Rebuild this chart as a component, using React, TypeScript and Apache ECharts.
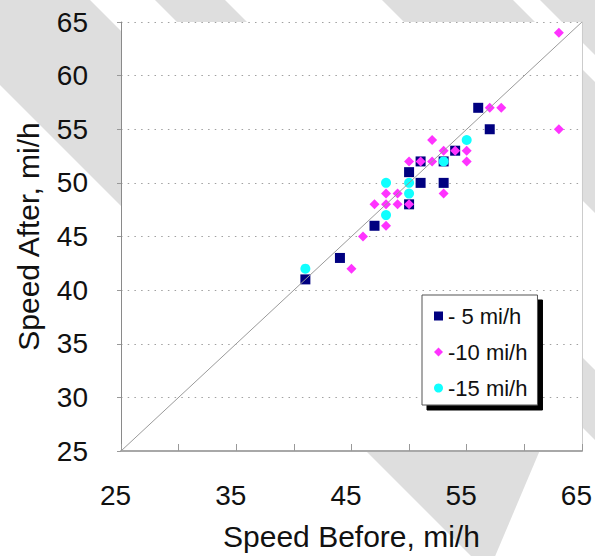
import React, { useEffect, useRef } from "react";
import * as echarts from "echarts";

// ---- data ----
const seriesNames = ["- 5 mi/h", "-10 mi/h", "-15 mi/h"];
const axisMin = 25;
const axisMax = 65;
const axisStep = 5;
const xLabelEvery = 10;

const minus5: number[][] = [
  [41, 41], [44, 43], [47, 46], [50, 48], [50, 51], [51, 50],
  [51, 52], [53, 50], [53, 52], [54, 53], [56, 57], [57, 55],
];
const minus10: number[][] = [
  [45, 42], [46, 45], [48, 46], [47, 48], [48, 48], [49, 48], [50, 48],
  [48, 49], [49, 49], [53, 49], [50, 52], [51, 52], [52, 52], [55, 52],
  [53, 53], [54, 53], [55, 53], [52, 54], [57, 57], [58, 57], [63, 55], [63, 64],
];
const minus15: number[][] = [
  [41, 42], [48, 47], [48, 50], [50, 49], [50, 50], [53, 52], [55, 54],
];
const diagonal: number[][] = [[axisMin, axisMin], [axisMax, axisMax]];

const FONT = "'Liberation Sans', Arial, Helvetica, sans-serif";
const STRIPE = "#dedede";

function band(a: number, b: number) {
  return {
    type: "polygon",
    silent: true,
    z: -10,
    shape: { points: [[a - 100, -100], [b - 100, -100], [b + 800, 800], [a + 800, 800]] },
    style: { fill: STRIPE },
  };
}

export default function App() {
  const ref = useRef<HTMLDivElement>(null);
  useEffect(() => {
    document.body.style.margin = "0";
    if (!ref.current) return;
    const chart = echarts.init(ref.current, undefined, { renderer: "svg" });
    chart.setOption({
      animation: false,
      backgroundColor: "#ffffff",
      graphic: [
        {
          type: "polygon",
          silent: true,
          z: -10,
          shape: { points: [[-185, -100], [-10, -100], [540, 450], [488, 573]] },
          style: { fill: STRIPE },
        },
        band(155, 225),
        band(382, 513),
        band(540, 1200),
      ],
      grid: {
        left: 121,
        top: 22,
        width: 463,
        height: 429,
        show: true,
        backgroundColor: "#ffffff",
        borderWidth: 0,
      },
      legend: {
        orient: "vertical",
        left: 422,
        top: 295,
        data: [
          { name: seriesNames[0], icon: "rect" },
          { name: seriesNames[1], icon: "diamond" },
          { name: seriesNames[2], icon: "circle" },
        ],
        itemWidth: 9,
        itemHeight: 9,
        itemGap: 14,
        itemTextGap: 9,
        padding: [10, 10, 6, 12],
        backgroundColor: "#ffffff",
        borderColor: "#555555",
        borderWidth: 1,
        shadowColor: "#000000",
        shadowBlur: 0,
        shadowOffsetX: 5,
        shadowOffsetY: 5,
        textStyle: { fontFamily: FONT, fontSize: 22, color: "#111111" },
        selectedMode: false,
      },
      xAxis: {
        type: "value",
        min: axisMin,
        max: axisMax,
        interval: axisStep,
        name: "Speed Before, mi/h",
        nameLocation: "middle",
        nameGap: 70,
        nameTextStyle: { fontFamily: FONT, fontSize: 30, color: "#111111" },
        axisLine: { show: true, lineStyle: { color: "#a8a8a8", width: 2 } },
        axisTick: { show: true, inside: true, length: 7, lineStyle: { color: "#999999" } },
        axisLabel: {
          margin: 30,
          fontFamily: FONT,
          fontSize: 28,
          color: "#111111",
          padding: [0, 11, 0, 0],
          formatter: (v: number) => ((v - axisMin) % xLabelEvery === 0 ? String(v) : ""),
        },
        splitLine: { show: false },
      },
      yAxis: [
        {
          type: "value",
          min: axisMin,
          max: axisMax,
          interval: axisStep,
          name: "Speed After, mi/h",
          nameLocation: "middle",
          nameGap: 78,
          nameTextStyle: { fontFamily: FONT, fontSize: 30, color: "#111111" },
          axisLine: { show: true, lineStyle: { color: "#8a8a8a", width: 1 } },
          axisTick: { show: true, length: 4, lineStyle: { color: "#999999" } },
          axisLabel: { margin: 33, fontFamily: FONT, fontSize: 28, color: "#111111" },
          splitLine: {
            show: true,
            lineStyle: { color: "#a0a0a0", width: 1, type: [1.5, 5.2] },
          },
        },
        {
          type: "value",
          position: "right",
          min: axisMin,
          max: axisMax,
          interval: axisStep,
          axisLine: { show: true, lineStyle: { color: "#cccccc", width: 1 } },
          axisTick: { show: false },
          axisLabel: { show: false },
          splitLine: { show: false },
        },
      ],
      series: [
        {
          name: "diag",
          type: "line",
          data: diagonal,
          symbol: "none",
          silent: true,
          lineStyle: { color: "#9a9a9a", width: 1 },
        },
        {
          name: seriesNames[0],
          type: "scatter",
          data: minus5,
          symbol: "rect",
          symbolSize: 10,
          itemStyle: { color: "#000080", opacity: 1 },
        },
        {
          name: seriesNames[1],
          type: "scatter",
          data: minus10,
          symbol: "diamond",
          symbolSize: 10,
          itemStyle: { color: "#ff33ff", opacity: 1 },
        },
        {
          name: seriesNames[2],
          type: "scatter",
          data: minus15,
          symbol: "circle",
          symbolSize: 10,
          itemStyle: { color: "#11ffff", opacity: 1 },
        },
      ],
    });
    return () => chart.dispose();
  }, []);
  return <div ref={ref} style={{ width: 595, height: 556 }} />;
}
